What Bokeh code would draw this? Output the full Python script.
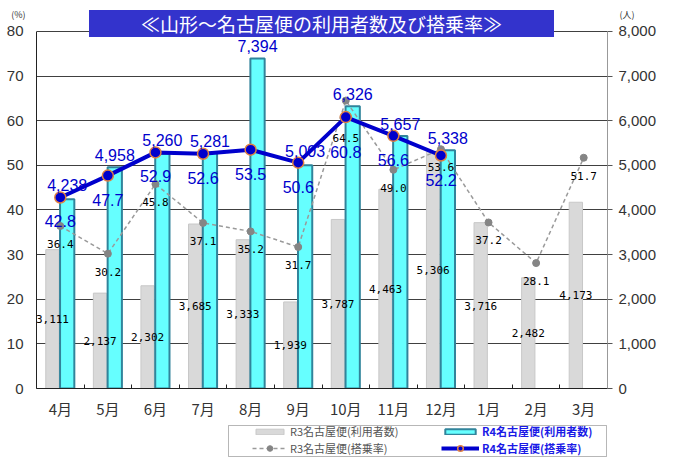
import json
from bokeh.plotting import figure
from bokeh.models import (Range1d, LinearAxis, FixedTicker, NumeralTickFormatter, Label,
                          Legend, LegendItem, ColumnDataSource, BoxAnnotation,
                          CustomJSTickFormatter)
from bokeh.layouts import column
from bokeh.transform import dodge
from bokeh.core.properties import value
from bokeh.embed import file_html
from bokeh.resources import INLINE

# ---------------- data ----------------
months = ["4月", "5月", "6月", "7月", "8月", "9月", "10月", "11月", "12月", "1月", "2月", "3月"]
r3_users = [3111, 2137, 2302, 3685, 3333, 1939, 3787, 4463, 5306, 3716, 2482, 4173]
r4_users = [4238, 4958, 5260, 5281, 7394, 5003, 6326, 5657, 5338]
r3_rate = [36.4, 30.2, 45.8, 37.1, 35.2, 31.7, 64.5, 49.0, 53.6, 37.2, 28.1, 51.7]
r4_rate = [42.8, 47.7, 52.9, 52.6, 53.5, 50.6, 60.8, 56.6, 52.2]
left_ticks = [0, 10, 20, 30, 40, 50, 60, 70, 80]
right_ticks = [0, 1000, 2000, 3000, 4000, 5000, 6000, 7000, 8000]
title_text = "≪山形～名古屋便の利用者数及び搭乗率≫"
unit_labels = ["(%)", "(人)"]
legend_labels = ["R3名古屋便(利用者数)", "R3名古屋便(搭乗率)", "R4名古屋便(利用者数)", "R4名古屋便(搭乗率)"]

# ---------------- layout constants ----------------
W, H_MAIN, H_LEG = 673, 421, 36
B_LEFT, B_RIGHT, B_TOP, B_BOTTOM = 36, 66, 0, 32
TOP_GRID_Y = 31                                   # pixel row of the 80 % line
frame_h = H_MAIN - B_TOP - B_BOTTOM
plot_h = H_MAIN - B_BOTTOM - TOP_GRID_Y
y_top = 80 * frame_h / plot_h                     # head room above 80 % for the title box
px_per_unit = plot_h / 80
unit_y = 80 + (TOP_GRID_Y - 14) / px_per_unit    # level of the "(%)" / "(人)" captions

BLUE = "#0000CC"
CJK = "Noto Sans CJK JP"

idx3 = list(range(len(r3_users)))
idx4 = list(range(len(r4_users)))

# label anchors: when an R4 dot sits just under an R3 dot, the R3 label moves below the R4 dot
r3_anchor, r3_off, r4_off = [], [], []
for i, r in enumerate(r3_rate):
    anchor, off = r, 18
    if i < len(r4_rate):
        gap = (r - r4_rate[i]) * px_per_unit
        if 10 < gap < 24:
            anchor, off = r4_rate[i], 21
    r3_anchor.append(anchor)
    r3_off.append(off)
for i, r in enumerate(r4_rate):
    r4_off.append(35 if r3_anchor[i] == r else 24)

src3 = ColumnDataSource(dict(
    x=idx3, users=r3_users, users_mid=[u / 2 for u in r3_users],
    users_lbl=[f"{u:,}" for u in r3_users],
    rate=r3_rate, rate_anchor=r3_anchor, rate_off=r3_off,
    rate_lbl=[f"{r:.1f}" for r in r3_rate]))
src4 = ColumnDataSource(dict(
    x=idx4, users=r4_users,
    users_top=[max(u, r * 100) for u, r in zip(r4_users, r4_rate)],
    users_lbl=[f"{u:,}" for u in r4_users],
    rate=r4_rate, rate_off=r4_off, rate_lbl=[f"{r:.1f}" for r in r4_rate]))

p = figure(width=W, height=H_MAIN, x_range=Range1d(-0.5, 11.5), y_range=Range1d(0, y_top),
           output_backend="svg", toolbar_location=None,
           min_border_left=B_LEFT, min_border_right=B_RIGHT,
           min_border_top=B_TOP, min_border_bottom=B_BOTTOM)
p.outline_line_color = None
p.background_fill_color = "white"
p.extra_y_ranges = {"right": Range1d(0, y_top * 100)}

# grid
p.xgrid.grid_line_color = None
p.ygrid.grid_line_color = "#404040"
p.ygrid.grid_line_width = 1
p.ygrid.ticker = FixedTicker(ticks=left_ticks)

# left axis
ya = p.yaxis[0]
ya.ticker = FixedTicker(ticks=left_ticks)
ya.bounds = (0, 80)
ya.axis_line_color = "#222222"
ya.major_tick_out = 0
ya.major_tick_in = 0
ya.minor_tick_line_color = None
ya.major_label_text_font = "Liberation Sans"
ya.major_label_text_font_size = "15px"
ya.major_label_text_color = "#333333"
ya.major_label_standoff = 13

# right axis
ra = LinearAxis(y_range_name="right", ticker=FixedTicker(ticks=right_ticks),
                formatter=NumeralTickFormatter(format="0,0"), bounds=(0, 8000))
ra.axis_line_color = "#999999"
ra.major_tick_out = 5
ra.major_tick_in = 0
ra.major_tick_line_color = "#555555"
ra.minor_tick_line_color = None
ra.major_label_text_font = "Liberation Sans"
ra.major_label_text_font_size = "15px"
ra.major_label_text_color = "#333333"
ra.major_label_standoff = 6
p.add_layout(ra, "right")


# unit captions: one-tick axes whose tick label is the caption
def unit_axis(text, standoff):
    ax = LinearAxis(ticker=FixedTicker(ticks=[unit_y]),
                    formatter=CustomJSTickFormatter(code=f"return {json.dumps(text)};"))
    ax.axis_line_color = None
    ax.major_tick_line_color = None
    ax.minor_tick_line_color = None
    ax.major_tick_out = 0
    ax.major_tick_in = 0
    ax.major_label_text_font = CJK
    ax.major_label_text_font_size = "9px"
    ax.major_label_text_color = "#333333"
    ax.major_label_standoff = standoff
    return ax


p.add_layout(unit_axis(unit_labels[0], -22), "left")
p.add_layout(unit_axis(unit_labels[1], -40), "right")

# x axis
xa = p.xaxis[0]
xa.ticker = FixedTicker(ticks=idx3, minor_ticks=[i - 0.5 for i in range(len(months) + 1)])
xa.major_label_overrides = {i: m for i, m in enumerate(months)}
xa.axis_line_color = "#222222"
xa.major_tick_in = 0
xa.major_tick_out = 0
xa.minor_tick_in = 4
xa.minor_tick_out = 0
xa.minor_tick_line_color = "#222222"
xa.major_label_text_font = CJK
xa.major_label_text_font_size = "15px"
xa.major_label_text_color = "#333333"
xa.major_label_standoff = 9

# styles
BAR3 = dict(fill_color="#D9D9D9", line_color="#C8C8C8", line_width=1)
BAR4 = dict(fill_color="#66FFFF", line_color="#31849B", line_width=2)
LINE3 = dict(line_color="#9A9A9A", line_dash="4 3", line_width=1.5)
DOT3 = dict(fill_color="#858585", line_color="#858585")
LINE4 = dict(line_color=BLUE, line_width=4)
DOT4 = dict(fill_color=BLUE, line_color="#E08040", line_width=1.5)

# bars
p.vbar(x=dodge("x", -0.165), top="users", width=0.28, source=src3, y_range_name="right", **BAR3)
p.vbar(x=dodge("x", 0.145), top="users", width=0.30, source=src4, y_range_name="right", **BAR4)

# lines
p.line("x", "rate", source=src3, **LINE3)
p.scatter("x", "rate", source=src3, size=7, **DOT3)
p.line("x", "rate", source=src4, **LINE4)
p.scatter("x", "rate", source=src4, size=11, **DOT4)

# labels
p.text(x=dodge("x", -0.165), y="users_mid", text="users_lbl", source=src3, y_range_name="right",
       text_align="center", text_baseline="middle", text_font=value("DejaVu Sans Mono"),
       text_font_size="11px", text_color="#000000")
p.text(x="x", y="rate_anchor", text="rate_lbl", source=src3, y_offset="rate_off",
       text_align="center", text_baseline="middle", text_font=value("DejaVu Sans Mono"),
       text_font_size="11px", text_color="#000000")
p.text(x=dodge("x", 0.145), y="users_top", text="users_lbl", source=src4, y_range_name="right",
       y_offset=-6, text_align="center", text_baseline="bottom", text_font=value("Liberation Sans"),
       text_font_size="16px", text_color=BLUE)
p.text(x="x", y="rate", text="rate_lbl", source=src4, y_offset="rate_off",
       text_align="center", text_baseline="middle", text_font=value("Liberation Sans"),
       text_font_size="16px", text_color=BLUE)

# title box (inside the frame's head room)
p.add_layout(Label(x=285, y=H_MAIN - B_BOTTOM - 24, x_units="screen", y_units="screen",
                   text=title_text, text_align="center", text_baseline="middle",
                   text_color="white", text_font=CJK, text_font_size="19px",
                   background_fill_color="#3333CC", padding=(52, 0)))

# ---------------- legend strip ----------------
p2 = figure(width=W, height=H_LEG, x_range=Range1d(0, 1), y_range=Range1d(0, 1),
            x_axis_type=None, y_axis_type=None, output_backend="svg", toolbar_location=None,
            min_border_left=B_LEFT, min_border_right=B_RIGHT, min_border_top=0,
            min_border_bottom=0)
p2.outline_line_color = None
p2.xgrid.grid_line_color = None
p2.ygrid.grid_line_color = None

# hidden copies of the series: they only lend their styling to the legend swatches
e3b = p2.vbar(x="x", top="users", width=0.28, source=src3, visible=False, **BAR3)
e4b = p2.vbar(x="x", top="users", width=0.30, source=src4, visible=False, **BAR4)
e3l = p2.line("x", "rate", source=src3, visible=False, **LINE3)
e3s = p2.scatter("x", "rate", source=src3, visible=False, **DOT3)
e4l = p2.line("x", "rate", source=src4, visible=False, **LINE4)
e4s = p2.scatter("x", "rate", source=src4, visible=False, **DOT4)

p2.add_layout(BoxAnnotation(left=228 - B_LEFT, right=606 - B_LEFT, top=32, bottom=1,
                            left_units="screen", right_units="screen",
                            top_units="screen", bottom_units="screen",
                            fill_alpha=0, line_color="#111111", line_width=1))


def leg(label, rends, loc, color, gw, gh, bold=False):
    return Legend(items=[LegendItem(label=label, renderers=rends)], location=loc,
                  border_line_color=None, background_fill_alpha=0, padding=0, margin=0,
                  glyph_width=gw, glyph_height=gh, label_standoff=3, label_height=13,
                  inactive_fill_alpha=0, click_policy="none",
                  label_text_font=CJK, label_text_font_size="11px", label_text_color=color,
                  label_text_font_style="bold" if bold else "normal")


p2.add_layout(leg(legend_labels[0], [e3b], (252 - B_LEFT, 18), "#555555", 35, 7))
p2.add_layout(leg(legend_labels[1], [e3l, e3s], (252 - B_LEFT, 1), "#555555", 35, 14))
p2.add_layout(leg(legend_labels[2], [e4b], (441 - B_LEFT, 18), "#1A1AE6", 38, 7, True))
p2.add_layout(leg(legend_labels[3], [e4l, e4s], (441 - B_LEFT, 1), "#1A1AE6", 38, 14, True))

open("out.html", "w").write(file_html(column(p, p2, spacing=0), INLINE))
